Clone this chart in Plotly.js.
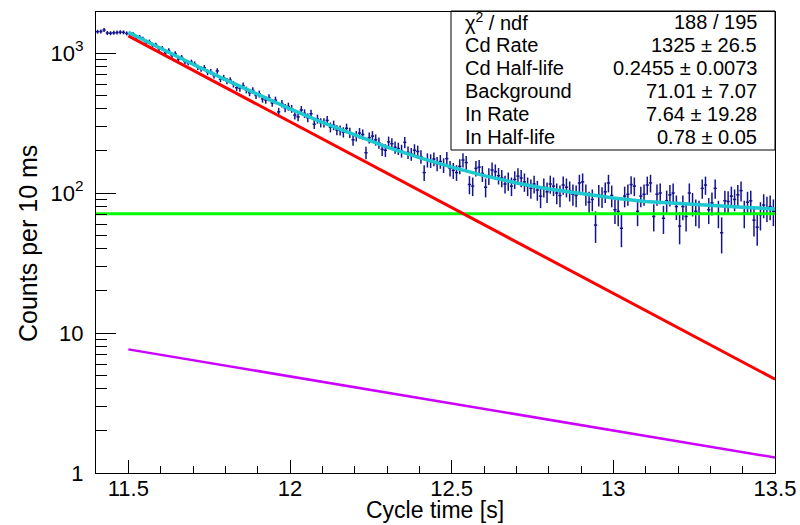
<!DOCTYPE html>
<html>
<head>
<meta charset="utf-8">
<script src="https://cdn.plot.ly/plotly-3.0.1.min.js"></script>
<style>html,body{margin:0;padding:0;background:#fff;} #chart{width:800px;height:525px;}</style>
</head>
<body>
<div id="chart"></div>
<script>
// ---- Data ----
const binStart = 11.4;     // s, left edge of the first 10 ms bin
const binWidth = 0.01;     // s
const counts = [
  1420, 1425, 1460, 1390, 1385, 1395, 1400, 1410, 1405, 1380,
  1370, 1362, 1290, 1301, 1262, 1190, 1205, 1138, 1142, 1075,
  1080, 1005, 1040, 960, 990, 905, 930, 870, 850, 860,
  835, 790, 770, 785, 728, 735, 690, 745, 650, 665,
  630, 640, 598, 565, 560, 585, 545, 520, 540, 498,
  510, 470, 462, 480, 440, 460, 380, 435, 405, 415,
  400, 360, 350, 392, 370, 345, 368, 310, 338, 318,
  318, 330, 295, 305, 282, 280, 272, 290, 270, 240,
  255, 268, 262, 194, 248, 255, 240, 228, 205, 202,
  232, 225, 212, 208, 200, 230, 195, 190, 202, 198,
  182, 140, 172, 170, 175, 162, 168, 158, 176, 150,
  145, 140, 155, 172, 165, 115, 112, 150, 153, 138,
  110, 132, 146, 142, 133, 128, 116, 122, 112, 125,
  132, 128, 120, 112, 108, 116, 105, 95, 110, 102,
  116, 112, 100, 96, 114, 110, 104, 98, 96, 118,
  120, 98, 86, 90, 59, 97, 94, 102, 118, 96,
  76, 74, 56, 95, 98, 115, 112, 74, 95, 98,
  114, 118, 68, 98, 100, 66, 88, 97, 100, 80,
  58, 80, 68, 100, 84, 74, 72, 108, 114, 76,
  85, 108, 72, 52, 88, 87, 95, 90, 97, 104,
  72, 86, 88, 64, 57, 70, 82, 78, 80, 74
];
// half-length of each vertical error bar
const countErrors = [
  46, 46, 46, 46, 46, 46, 46, 46, 46, 46,
  45, 45, 44, 44, 44, 43, 43, 42, 42, 41,
  41, 39, 40, 39, 39, 37, 38, 37, 36, 37,
  36, 35, 35, 35, 34, 34, 33, 34, 32, 33,
  32, 32, 31, 31, 31, 31, 30, 29, 30, 29,
  29, 28, 28, 28, 27, 28, 26, 27, 27, 27,
  26, 25, 25, 26, 26, 25, 26, 24, 25, 24,
  24, 25, 24, 24, 23, 23, 23, 23, 23, 22,
  22, 23, 22, 20, 22, 22, 22, 21, 21, 21,
  21, 21, 21, 21, 21, 21, 20, 20, 21, 20,
  20, 18, 20, 19, 20, 19, 19, 19, 20, 19,
  19, 18, 19, 20, 19, 17, 17, 19, 19, 18,
  17, 18, 19, 18, 18, 18, 17, 18, 17, 18,
  18, 18, 18, 17, 17, 17, 17, 17, 17, 17,
  17, 17, 17, 17, 17, 17, 17, 17, 17, 17,
  18, 17, 16, 16, 15, 17, 16, 17, 17, 17,
  16, 16, 15, 16, 17, 17, 17, 16, 16, 17,
  17, 17, 15, 17, 17, 15, 16, 17, 17, 16,
  15, 16, 15, 17, 16, 16, 16, 17, 17, 16,
  16, 17, 16, 15, 16, 16, 16, 16, 17, 17,
  16, 16, 16, 15, 15, 16, 16, 16, 16, 16
];

// Fit curves
const totalT   = [11.5, 11.6, 11.7, 11.8, 11.9, 12.0, 12.1, 12.2, 12.3, 12.4, 12.5,
                  12.6, 12.7, 12.8, 12.9, 13.0, 13.1, 13.2, 13.3, 13.4, 13.5];
const totalFit = [1404, 1077, 831, 645, 505, 399, 319, 259, 213, 179, 153,
                  133, 118, 107, 99, 92, 87, 84, 81, 79, 77];
const cdT   = [11.5, 13.5];
const cdFit = [1325, 4.68];
const inT   = [11.5, 13.5];
const inFit = [7.64, 1.29];
const bkgT   = [11.4, 13.5];
const bkgFit = [71.01, 71.01];

// Stat box
const statLabels = ['\u03c7<sup>2</sup> / ndf', 'Cd Rate', 'Cd Half-life', 'Background', 'In Rate', 'In Half-life'];
const statValues = ['188 / 195', '1325 \u00b1 26.5', '0.2455 \u00b1 0.0073', '71.01 \u00b1 7.07', '7.64 \u00b1 19.28', '0.78 \u00b1 0.05'];

const yTickVals = [1, 10, 100, 1000];
const yTickText = ['1', '10', '10<sup>2</sup>', '10<sup>3</sup>'];

// ---- Layout geometry (pixels) ----
const W = 800, H = 525;
const L = 96, R = 25, T = 12, B = 52;
const PW = W - L - R, PH = H - T - B;
const px = x => (x - L) / PW;
const py = y => (H - B - y) / PH;

const binCenters = counts.map((_, i) => binStart + binWidth * (i + 0.5));

const FONT = 'Liberation Sans, Arial, Helvetica, sans-serif';
const dataColor = '#14148f';

const traces = [
  {
    x: binCenters, y: counts, type: 'scatter', mode: 'markers',
    marker: {size: 1, color: dataColor},
    error_y: {type: 'data', array: countErrors, visible: true, color: dataColor, thickness: 1.5, width: 0},
    error_x: {type: 'constant', value: binWidth / 2, visible: true, color: dataColor, thickness: 1.5, width: 0},
    hoverinfo: 'skip', showlegend: false
  },
  {x: bkgT, y: bkgFit, type: 'scatter', mode: 'lines', line: {color: '#00ff00', width: 3}, showlegend: false},
  {x: cdT, y: cdFit, type: 'scatter', mode: 'lines', line: {color: '#ff0000', width: 3}, showlegend: false},
  {x: inT, y: inFit, type: 'scatter', mode: 'lines', line: {color: '#cc00ff', width: 2.5}, showlegend: false},
  {x: totalT, y: totalFit, type: 'scatter', mode: 'lines', line: {color: '#1ec8d0', width: 3.5}, showlegend: false}
];

const annotations = [];
const rowY = [22, 45, 68, 91, 114, 137];
statLabels.forEach((t, i) => {
  annotations.push({xref: 'paper', yref: 'paper', x: px(463), y: py(rowY[i]), xanchor: 'left', yanchor: 'middle',
    text: t, showarrow: false, font: {family: FONT, size: 20, color: '#000'}});
  annotations.push({xref: 'paper', yref: 'paper', x: px(759), y: py(rowY[i]), xanchor: 'right', yanchor: 'middle',
    text: statValues[i], showarrow: false, font: {family: FONT, size: 20, color: '#000'}});
});
// axis titles
annotations.push({xref: 'paper', yref: 'paper', x: px(435), y: py(524), xanchor: 'center', yanchor: 'bottom',
  text: 'Cycle time [s]', showarrow: false, borderpad: 0, font: {family: FONT, size: 23, color: '#000'}});
annotations.push({xref: 'paper', yref: 'paper', x: px(28), y: py(244), xanchor: 'center', yanchor: 'middle', textangle: -90,
  text: 'Counts per 10 ms', showarrow: false, font: {family: FONT, size: 25, color: '#000'}});

const layout = {
  width: W, height: H,
  margin: {l: L, r: R, t: T, b: B},
  paper_bgcolor: '#fff', plot_bgcolor: '#fff',
  font: {family: FONT, color: '#000'},
  showlegend: false,
  xaxis: {
    range: [11.4, 13.5], tickmode: 'linear', tick0: 11.5, dtick: 0.5,
    ticks: 'inside', ticklen: 13, tickwidth: 1, tickcolor: '#000',
    showline: true, linecolor: '#000', linewidth: 1, mirror: true,
    showgrid: false, zeroline: false,
    tickfont: {family: FONT, size: 22, color: '#000'}, ticklabelstandoff: -4,
    minor: {tickmode: 'linear', tick0: 11.4, dtick: 0.1, ticks: 'inside', ticklen: 7, tickcolor: '#000', showgrid: false}
  },
  yaxis: {
    type: 'log', range: [0, 3.293],
    tickmode: 'array', tickvals: yTickVals, ticktext: yTickText,
    ticks: 'inside', ticklen: 20, tickwidth: 1, tickcolor: '#000',
    showline: true, linecolor: '#000', linewidth: 1, mirror: true,
    showgrid: false, zeroline: false,
    tickfont: {family: FONT, size: 22, color: '#000'}, ticklabelstandoff: 7,
    minor: {tickmode: 'array', tickvals: [2,3,4,5,6,7,8,9,20,30,40,50,60,70,80,90,200,300,400,500,600,700,800,900],
            ticks: 'inside', ticklen: 11, tickcolor: '#000', showgrid: false}
  },
  shapes: [{
    type: 'rect', xref: 'paper', yref: 'paper', layer: 'above',
    x0: px(451), x1: px(775), y0: py(150), y1: py(11),
    fillcolor: 'rgba(0,0,0,0)', line: {color: '#000', width: 1}
  }],
  annotations: annotations
};

Plotly.newPlot('chart', traces, layout, {staticPlot: true, displayModeBar: false});
</script>
</body>
</html>
